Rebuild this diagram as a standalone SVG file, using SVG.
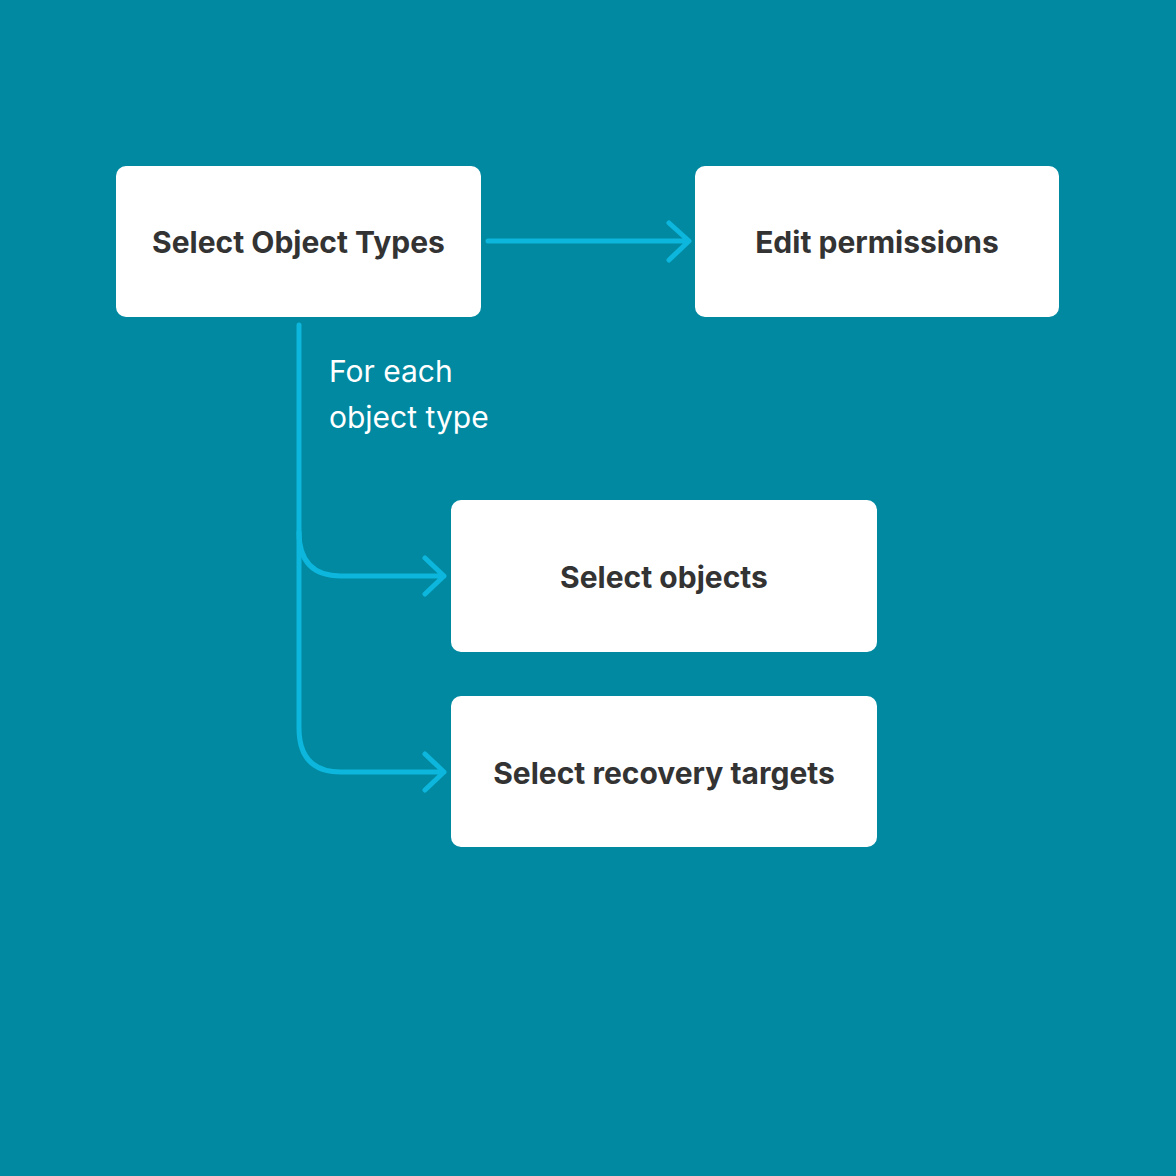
<svg xmlns="http://www.w3.org/2000/svg" width="1176" height="1176" viewBox="0 0 1176 1176">
<style>
.node{fill:#ffffff}
.lbl{font-family:Inter,"Liberation Sans",sans-serif;font-weight:700;font-size:30px;fill:#333333;text-anchor:middle}
.note{font-family:Inter,"Liberation Sans",sans-serif;font-weight:400;font-size:30px;fill:#ffffff}
.conn{fill:none;stroke:#0cb6dc;stroke-width:5;stroke-linecap:round;stroke-linejoin:round}
</style>
<rect width="1176" height="1176" fill="#0089a1"/>
<g id="connectors">
<path class="conn" d="M488,241 H688 M669,223 L689,241 L669,260"/>
<path class="conn" d="M299,325 V532 Q299,576 341,576 H444 M425,558 L444,576 L425,594"/>
<path class="conn" d="M299,532 V728 Q299,772 341,772 H444 M425,754 L444,772 L425,790"/>
</g>
<g id="node-select-object-types">
<rect class="node" x="116" y="166" width="365" height="151" rx="10"/>
<text class="lbl" x="298.5" y="253">Select Object Types</text>
</g>
<g id="node-edit-permissions">
<rect class="node" x="695" y="166" width="364" height="151" rx="10"/>
<text class="lbl" x="877" y="253">Edit permissions</text>
</g>
<g id="node-select-objects">
<rect class="node" x="451" y="500" width="426" height="152" rx="10"/>
<text class="lbl" x="664" y="588">Select objects</text>
</g>
<g id="node-select-recovery-targets">
<rect class="node" x="451" y="696" width="426" height="151" rx="10"/>
<text class="lbl" x="664" y="784">Select recovery targets</text>
</g>
<g id="label-for-each">
<text class="note" x="329" y="382">For each</text>
<text class="note" x="329" y="428">object type</text>
</g>
</svg>
